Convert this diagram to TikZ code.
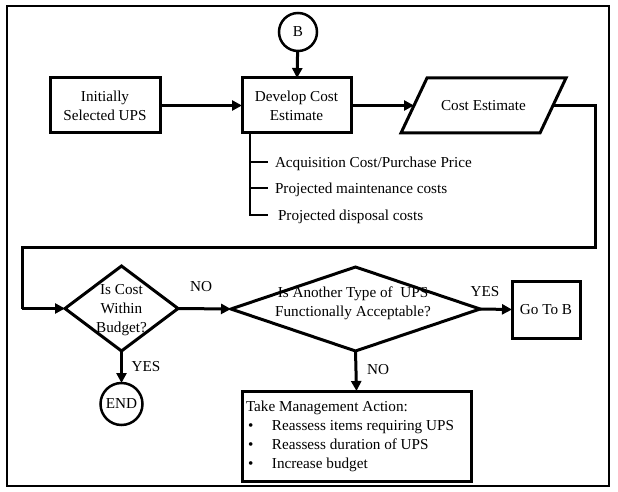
\documentclass[tikz,border=0pt]{standalone}
\usepackage{fontspec}
\setmainfont{Liberation Serif}
\usetikzlibrary{arrows.meta,shapes.geometric}
\begin{document}
\begin{tikzpicture}[x=1pt,y=-1pt,
  every node/.style={font=\fontsize{15.2}{19}\selectfont, inner sep=0pt, outer sep=0pt},
  box/.style={draw, line width=3pt, rectangle, align=center},
  dia/.style={draw, line width=3pt, diamond, inner sep=0pt},
  conn/.style={draw, line width=1.5pt, circle, inner sep=0pt},
  arr/.style={line width=3pt, -{Triangle[length=10pt,width=10pt]}},
  ln/.style={line width=3pt},
  thin/.style={line width=2pt},
  lbl/.style={align=center}
]
\useasboundingbox (0,0) rectangle (618,492);
\fill[white] (0,0) rectangle (618,492);
\draw[line width=1.3pt] (7,6) rectangle (609,486);

% top row
\node[conn, line width=2.5pt, minimum size=38pt] (B) at (298,32) {B};
\node[box, minimum width=110pt, minimum height=55pt] (init) at (105,105.5) {Initially\\Selected UPS};
\node[box, minimum width=109pt, minimum height=55pt] (dev) at (296.5,105.5) {Develop Cost\\Estimate};

% parallelogram
\coordinate (ceTL) at (427,78);
\coordinate (ceTR) at (566,78);
\coordinate (ceBR) at (540,133);
\coordinate (ceBL) at (401,133);
\coordinate (ceW) at (414,105.5);
\coordinate (ceE) at (553,105.5);
\draw[ln, line join=miter] (ceTL) -- (ceTR) -- (ceBR) -- (ceBL) -- cycle;
\node (cost) at (483.5,105.5) {Cost Estimate};

\draw[arr] (B) -- (dev);
\draw[arr] (init) -- (dev);
\draw[arr] (dev) -- (ceW);

% bracket of cost items
\coordinate (brTop) at (250,133);
\coordinate (br1) at (268,162);
\coordinate (br2) at (268,188);
\coordinate (br3) at (268,215);
\draw[thin] (brTop) |- (br3);
\draw[thin] (brTop |- br1) -- (br1);
\draw[thin] (brTop |- br2) -- (br2);
\node[anchor=west] (item1) at (275,164) {Acquisition Cost/Purchase Price};
\node[anchor=west] (item2) at (275,190) {Projected maintenance costs};
\node[anchor=west] (item3) at (278,217) {Projected disposal costs};

% decisions
\node[dia, minimum width=113pt, minimum height=85pt] (d1) at (121.5,308.5) {};
\node[lbl] (d1t) at (121.5,310) {Is Cost\\Within\\Budget?};
\node[dia, minimum width=249pt, minimum height=84pt] (d2) at (355.5,309) {};
\node[lbl] (d2t) at (353,303) {Is Another Type of\ \ UPS\\Functionally Acceptable?};
\node[box, minimum width=68pt, minimum height=57pt] (goto) at (546,309.5) {Go To B};
\node[conn, line width=2.5pt, minimum size=42pt] (end) at (121.5,404) {END};

% loop from cost estimate to first decision
\coordinate (r1) at (595,105.5);
\coordinate (r2) at (595,247);
\coordinate (r3) at (22,247);
\coordinate (r4) at (22,308.5);
\draw[ln, line join=miter] (ceE) -- (r1) -- (r2) -- (r3) -- (r4);
\draw[arr] (r4) -- (d1.west);

\draw[arr] (d1.east) -- (d2.west);
\draw[arr] (d2.east) -- (goto.west);
\draw[arr] (d1.south) -- (end.north);

% management box
\node[box, minimum width=229pt, minimum height=90pt] (mgmt) at (356.5,436) {};
\node[anchor=north west, align=left] (mgmtt) at (246,401)
  {Take Management Action:\\
   \makebox[26pt][l]{\hspace{2pt}\textbullet}Reassess items requiring UPS\\
   \makebox[26pt][l]{\hspace{2pt}\textbullet}Reassess duration of UPS\\
   \makebox[26pt][l]{\hspace{2pt}\textbullet}Increase budget};
\draw[arr] (d2.south) -- (mgmt.north);

% labels
\node (no1) at (201,287) {NO};
\node (yes1) at (485,292) {YES};
\node (yes2) at (146,367) {YES};
\node (no2) at (378,370) {NO};
\end{tikzpicture}
\end{document}
